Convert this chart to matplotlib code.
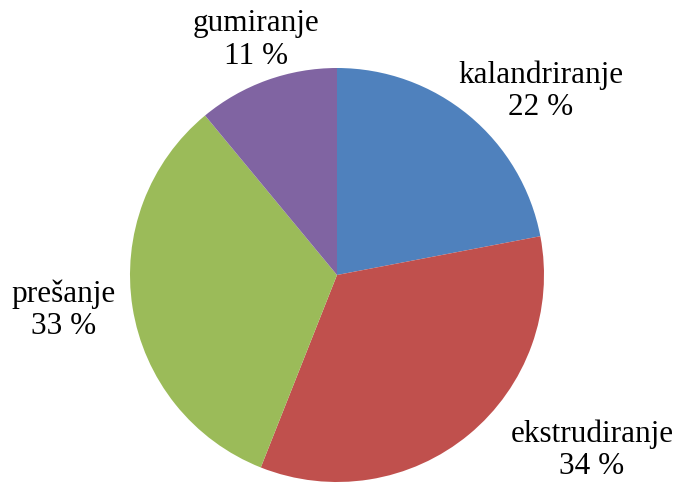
import matplotlib.pyplot as plt

# production share by process
processes = ['kalandriranje', 'ekstrudiranje', 'prešanje', 'gumiranje']
shares = [22, 34, 33, 11]
colors = ['#4F81BD', '#C0504D', '#9BBB59', '#8064A2']

# label centres in pixel space (origin bottom-left)
label_pos = [(541, 483 - 91), (592, 483 - 450), (64, 483 - 310), (256, 483 - 40)]

fig = plt.figure(figsize=(6.76, 4.83), dpi=100)
ax = fig.add_axes([0, 0, 1, 1])

ax.pie(shares, colors=colors, startangle=90, counterclock=False,
       center=(337, 483 - 275), radius=207,
       wedgeprops={'linewidth': 0})
ax.set_xlim(0, 676)
ax.set_ylim(0, 483)
ax.set_aspect('equal')
ax.axis('off')

for name, val, (x, y) in zip(processes, shares, label_pos):
    ax.text(x, y, f'{name}\n{val} %', ha='center', va='center',
            multialignment='center', fontsize=22.5, linespacing=1.15,
            family='Liberation Serif', color='black')

fig.savefig('out.png', dpi=100)
